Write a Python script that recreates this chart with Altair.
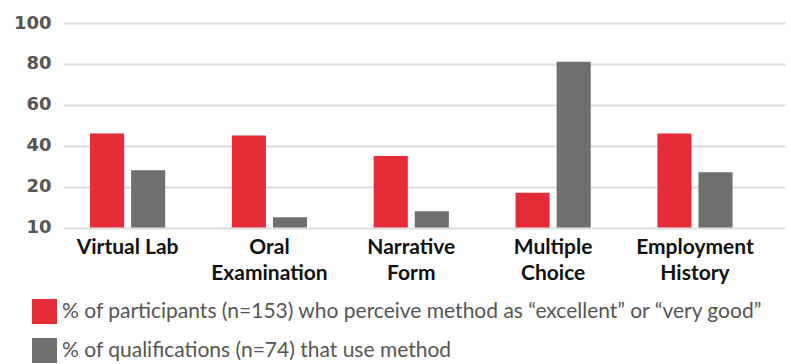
import altair as alt
import pandas as pd

categories = ["Virtual Lab", "Oral Examination", "Narrative Form", "Multiple Choice", "Employment History"]
series_names = [
    "% of participants (n=153) who perceive method as \u201cexcellent\u201d or \u201cvery good\u201d",
    "% of qualifications (n=74) that use method",
]
participants = [46, 45, 35, 17, 46]
qualifications = [28, 5, 8, 81, 27]
y_ticks = [0, 20, 40, 60, 80, 100]
colors = ["#E52A38", "#706F6D"]

rows = []
for c, a, b in zip(categories, participants, qualifications):
    rows.append({"method": c, "series": series_names[0], "value": a})
    rows.append({"method": c, "series": series_names[1], "value": b})
df = pd.DataFrame(rows)

chart = alt.Chart(df).mark_bar().encode(
    x=alt.X("method:N", sort=categories, title=None,
            scale=alt.Scale(paddingInner=0.47, paddingOuter=0.28, align=0.34),
            axis=alt.Axis(labelAngle=0, domain=False, ticks=False,
                          labelFont="Lato", labelFontWeight="bold", labelFontSize=21,
                          labelColor="#111111", labelPadding=9, labelLineHeight=26,
                          labelExpr="datum.label == 'Virtual Lab' ? datum.label : split(datum.label, ' ')")),
    xOffset=alt.XOffset("series:N", sort=series_names,
                        scale=alt.Scale(paddingInner=0.17, paddingOuter=0)),
    y=alt.Y("value:Q", title=None,
            scale=alt.Scale(domain=[0, 100], nice=False),
            axis=alt.Axis(values=y_ticks, domain=False, ticks=False,
                          labelFont="DejaVu Sans", labelFontWeight="bold", labelFontSize=18,
                          labelColor="#555555", labelPadding=12,
                          labelExpr="datum.value == 0 ? '10' : datum.label",
                          gridColor="#dcdcdc", gridWidth=2)),
    color=alt.Color("series:N", sort=series_names,
                    scale=alt.Scale(domain=series_names, range=colors),
                    legend=alt.Legend(title=None, orient="none", legendX=-31, legendY=276,
                                      direction="vertical", symbolType="square",
                                      symbolSize=625, symbolStrokeWidth=0,
                                      labelFont="Lato", labelFontSize=21, labelColor="#555555",
                                      labelLimit=0, rowPadding=14, labelOffset=5)),
).properties(
    width=722, height=204.5,
    autosize=alt.AutoSizeParams(type="none"),
    padding={"left": 63, "top": 23, "right": 6, "bottom": 136},
).configure_view(stroke=None)

chart.save("out.html", embed_options={"renderer": "svg", "actions": False})
